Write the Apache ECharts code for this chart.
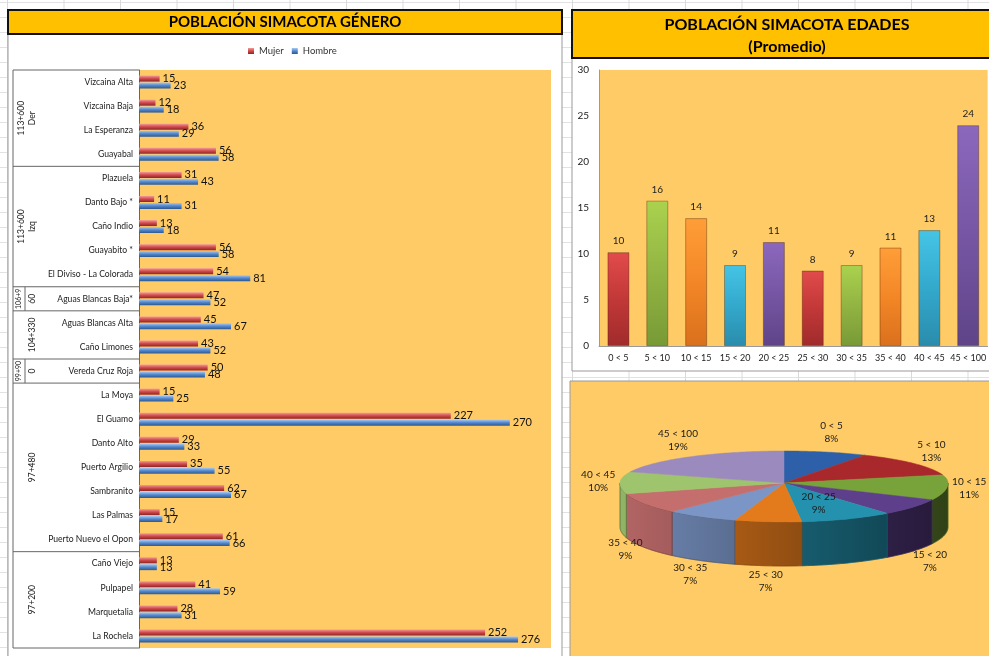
<!DOCTYPE html>
<html>
<head>
<meta charset="utf-8">
<script src="https://cdn.jsdelivr.net/npm/echarts@6/dist/echarts.min.js"></script>
<style>
  html, body { margin: 0; padding: 0; background: #fff; }
  #main {
    width: 989px; height: 656px;
    background-color: #fff;
    background-image: linear-gradient(to right, #dadada 1px, transparent 1px),
                      linear-gradient(to bottom, #e2e2e2 1px, transparent 1px);
    background-size: 56.5px 15px;
    background-position: 7px 2px;
  }
</style>
</head>
<body>
<div id="main"></div>
<script>
// poblacion por genero (veredas)
const localidades = ['Vizcaina Alta', 'Vizcaina Baja', 'La Esperanza', 'Guayabal', 'Plazuela', 'Danto Bajo *',
  'Caño Indio', 'Guayabito *', 'El Diviso - La Colorada', 'Aguas Blancas Baja*', 'Aguas Blancas Alta',
  'Caño Limones', 'Vereda Cruz Roja', 'La Moya', 'El Guamo', 'Danto Alto', 'Puerto Argilio', 'Sambranito',
  'Las Palmas', 'Puerto Nuevo el Opon', 'Caño Viejo', 'Pulpapel', 'Marquetalia', 'La Rochela'];
const mujer  = [15, 12, 36, 56, 31, 11, 13, 56, 54, 47, 45, 43, 50, 15, 227, 29, 35, 62, 15, 61, 13, 41, 28, 252];
const hombre = [23, 18, 29, 58, 43, 31, 18, 58, 81, 52, 67, 52, 48, 25, 270, 33, 55, 67, 17, 66, 13, 59, 31, 276];

// sectores de la via (etiquetas agrupadas del eje)
const sectorKm    = ['113+600', '113+600', '106+9', '', '99+90', '', ''];
const sectorLado  = ['Der', 'Izq', '60', '104+330', '0', '97+480', '97+200'];
const sectorDesde = [0, 4, 9, 10, 12, 13, 20];
const sectorHasta = [3, 8, 9, 11, 12, 19, 23];

// edades (promedio)
const edades = ['0 < 5', '5 < 10', '10 < 15', '15 < 20', '20 < 25', '25 < 30', '30 < 35', '35 < 40', '40 < 45', '45 < 100'];
const promedioEdad = [10.2, 15.8, 13.9, 8.8, 11.3, 8.2, 8.8, 10.7, 12.6, 24.0];

const FONT = 'Lato, "Open Sans", sans-serif';
const fondoNaranja = '#FFCB66';

function shade(hex, f) {
  const n = parseInt(hex.slice(1), 16);
  const r = Math.min(255, Math.round(((n >> 16) & 255) * f));
  const g = Math.min(255, Math.round(((n >> 8) & 255) * f));
  const b = Math.min(255, Math.round((n & 255) * f));
  return 'rgb(' + r + ',' + g + ',' + b + ')';
}
function vgrad(stops) {
  return new echarts.graphic.LinearGradient(0, 0, 0, 1, stops.map((c, k) => ({ offset: k / (stops.length - 1), color: c })));
}

// colores barras de edades
const coloresBarra = [
  ['#E24B4B', '#C23838', '#A02B2B'],
  ['#AAD24E', '#92B443', '#789A36'],
  ['#FF9E38', '#F38727', '#D9701C'],
  ['#45C4E6', '#33A9CC', '#2A8CAC'],
  ['#8C68BC', '#7656A4', '#5F4488']
];
// colores torta 3D
const coloresTorta = ['#2E60AA', '#A8282C', '#77A33A', '#5D3F8C', '#2492AE', '#E37A1C', '#7B95C6', '#C46E6E', '#9EC46E', '#9B8ABD'];
const etiquetasDentro = ['20 < 25'];

const total = promedioEdad.reduce((a, b) => a + b, 0);
const acumulado = [0];
promedioEdad.forEach((v, i) => acumulado.push(acumulado[i] + v));

// geometria de la torta
const pie = { cx: 784, cy: 483, rx: 164, ryB: 32, ryF: 39, depth: 44 };
function pt(phi, dy) {
  const c = Math.cos(phi);
  return [pie.cx + pie.rx * Math.sin(phi), pie.cy - (c > 0 ? pie.ryB : pie.ryF) * c + (dy || 0)];
}
function arc(a0, a1, dy) {
  const pts = [];
  const n = Math.max(2, Math.ceil((a1 - a0) / (Math.PI / 180)));
  for (let k = 0; k <= n; k++) pts.push(pt(a0 + (a1 - a0) * k / n, dy));
  return pts;
}

function renderSlice(params, api) {
  const i = params.dataIndex;
  const a0 = acumulado[i] / total * Math.PI * 2;
  const a1 = acumulado[i + 1] / total * Math.PI * 2;
  const col = coloresTorta[i];
  const children = [];
  // pared lateral visible
  const s0 = Math.max(a0, Math.PI / 2), s1 = Math.min(a1, Math.PI * 1.5);
  if (s1 > s0) {
    const pts = arc(s0, s1, 0).concat(arc(s0, s1, pie.depth).reverse());
    children.push({
      type: 'polygon', shape: { points: pts },
      style: {
        fill: new echarts.graphic.LinearGradient(pie.cx - pie.rx, 0, pie.cx + pie.rx, 0,
          [{ offset: 0, color: shade(col, 0.92) }, { offset: 1, color: shade(col, 0.4) }], true),
        stroke: shade(col, 0.6), lineWidth: 0.5
      }
    });
  }
  // cara superior
  const top = [[pie.cx, pie.cy]].concat(arc(a0, a1, 0));
  children.push({
    type: 'polygon', shape: { points: top },
    style: { fill: col, stroke: col, lineWidth: 0.5 }
  });
  // etiqueta
  const mid = (a0 + a1) / 2;
  const s = Math.sin(mid), c = Math.cos(mid);
  let lx, ly;
  if (etiquetasDentro.indexOf(edades[i]) >= 0) {
    lx = pie.cx + pie.rx * 0.55 * s;
    ly = pie.cy - (c > 0 ? pie.ryB : pie.ryF) * 0.55 * c;
  } else {
    lx = pie.cx + (pie.rx + 22) * s;
    ly = c >= 0 ? pie.cy - (pie.ryB + 20) * c
                : pie.cy + (pie.ryF + 16) * (-c) + pie.depth * Math.min(1, Math.max(0, -c - 0.1) * 2);
  }
  children.push({
    type: 'text', z2: 100, x: lx, y: ly,
    style: {
      text: edades[i] + '\n' + Math.round(api.value(0) / total * 100) + '%',
      fill: '#1a1a1a', fontSize: 10, fontFamily: FONT, align: 'center', verticalAlign: 'middle', lineHeight: 13
    }
  });
  return { type: 'group', children: children };
}

const chart = echarts.init(document.getElementById('main'));

const option = {
  backgroundColor: 'transparent',
  animation: false,
  textStyle: { fontFamily: FONT },
  legend: {
    data: ['Mujer', 'Hombre'], left: 243, top: 41, icon: 'rect',
    itemWidth: 6, itemHeight: 6, itemGap: 8,
    textStyle: { fontSize: 9.5, color: '#333' }
  },
  grid: [
    { left: 139, top: 70, width: 412, height: 578, show: true, backgroundColor: fondoNaranja, borderWidth: 0 },
    { left: 599, top: 70, width: 392, height: 276, show: true, backgroundColor: fondoNaranja, borderWidth: 0 }
  ],
  xAxis: [
    { gridIndex: 0, type: 'value', min: 0, max: 300, show: false },
    {
      gridIndex: 1, type: 'category', data: edades,
      axisLine: { lineStyle: { color: '#9a9a9a' } }, axisTick: { show: false },
      axisLabel: { fontSize: 9, color: '#222', margin: 8, interval: 0 }
    }
  ],
  yAxis: [
    {
      gridIndex: 0, type: 'category', data: localidades, inverse: true,
      axisLine: { show: true, lineStyle: { color: '#666' } }, axisTick: { show: false },
      axisLabel: { fontSize: 8.6, color: '#222', margin: 6, interval: 0 }
    },
    {
      gridIndex: 1, type: 'value', min: 0, max: 30, interval: 5,
      axisLine: { show: true, lineStyle: { color: '#9a9a9a' } }, axisTick: { show: false },
      splitLine: { show: false },
      axisLabel: { fontSize: 10, color: '#222', margin: 10 }
    }
  ],
  series: [
    {
      name: 'Mujer', type: 'bar', xAxisIndex: 0, yAxisIndex: 0, data: mujer,
      barWidth: 6, barGap: '15%',
      itemStyle: { color: vgrad(['#F39A9A', '#D04A4A', '#8E2424']) },
      label: { show: true, position: 'right', distance: 3, fontSize: 11, color: '#111' }
    },
    {
      name: 'Hombre', type: 'bar', xAxisIndex: 0, yAxisIndex: 0, data: hombre,
      barWidth: 6, barGap: '15%',
      itemStyle: { color: vgrad(['#A9CAF2', '#5387CC', '#2C5890']) },
      label: { show: true, position: 'right', distance: 3, fontSize: 11, color: '#111' }
    },
    {
      name: 'Edades', type: 'bar', xAxisIndex: 1, yAxisIndex: 1, barWidth: 22,
      data: promedioEdad.map((v, i) => ({
        value: v,
        itemStyle: { color: vgrad(coloresBarra[i % 5]), borderColor: 'rgba(60,30,0,0.35)', borderWidth: 1 }
      })),
      label: { show: true, position: 'top', distance: 6, fontSize: 10, color: '#222', formatter: p => Math.round(p.value) }
    },
    {
      name: 'Torta', type: 'custom', coordinateSystem: 'none', silent: true,
      data: promedioEdad, renderItem: renderSlice
    }
  ]
};
chart.setOption(option);

// marcos, titulos y etiquetas agrupadas del eje
function marcos() {
  const yc = i => chart.convertToPixel({ yAxisIndex: 0 }, i);
  const band = yc(1) - yc(0);
  const els = [
    { type: 'rect', z: -10, shape: { x: 8, y: 34, width: 554, height: 640 }, style: { fill: '#fff', stroke: '#9a9a9a', lineWidth: 1 } },
    { type: 'rect', z: -10, shape: { x: 572, y: 58, width: 430, height: 313 }, style: { fill: '#fff', stroke: '#9a9a9a', lineWidth: 1 } },
    { type: 'rect', z: -10, shape: { x: 570, y: 381, width: 430, height: 290 }, style: { fill: fondoNaranja, stroke: '#9a9a9a', lineWidth: 1 } },
    { type: 'rect', z: 10, shape: { x: 8, y: 10, width: 554, height: 24 }, style: { fill: '#FFC000', stroke: '#111', lineWidth: 2 } },
    { type: 'text', z: 11, x: 285, y: 22, style: { text: 'POBLACIÓN SIMACOTA GÉNERO', font: 'bold 15px ' + FONT, fill: '#000', align: 'center', verticalAlign: 'middle' } },
    { type: 'rect', z: 10, shape: { x: 572, y: 10, width: 430, height: 48 }, style: { fill: '#FFC000', stroke: '#111', lineWidth: 2 } },
    { type: 'text', z: 11, x: 787, y: 25, style: { text: 'POBLACIÓN SIMACOTA EDADES', font: 'bold 16px ' + FONT, fill: '#000', align: 'center', verticalAlign: 'middle' } },
    { type: 'text', z: 11, x: 787, y: 47, style: { text: '(Promedio)', font: 'bold 16px ' + FONT, fill: '#000', align: 'center', verticalAlign: 'middle' } }
  ];
  const y0 = yc(0) - band / 2;
  const yN = yc(localidades.length - 1) + band / 2;
  els.push({ type: 'line', shape: { x1: 13, y1: y0, x2: 13, y2: yN }, style: { stroke: '#666', lineWidth: 1 } });
  els.push({ type: 'line', shape: { x1: 13, y1: y0, x2: 139, y2: y0 }, style: { stroke: '#666', lineWidth: 1 } });
  sectorLado.forEach((lado, g) => {
    const top = yc(sectorDesde[g]) - band / 2;
    const bot = yc(sectorHasta[g]) + band / 2;
    const mid = (top + bot) / 2;
    const simple = sectorDesde[g] === sectorHasta[g];
    els.push({ type: 'line', shape: { x1: 13, y1: bot, x2: 139, y2: bot }, style: { stroke: '#666', lineWidth: 1 } });
    els.push({ type: 'text', x: 32, y: mid, rotation: Math.PI / 2, style: { text: lado, fontSize: 8.5, fontFamily: FONT, fill: '#222', align: 'center', verticalAlign: 'middle' } });
    if (sectorKm[g]) {
      els.push({ type: 'text', x: simple ? 19 : 21, y: mid, rotation: Math.PI / 2, style: { text: sectorKm[g], fontSize: simple ? 7 : 8.5, fontFamily: FONT, fill: '#222', align: 'center', verticalAlign: 'middle' } });
      if (simple) {
        els.push({ type: 'line', shape: { x1: 25, y1: top, x2: 25, y2: bot }, style: { stroke: '#666', lineWidth: 1 } });
      }
    }
  });
  chart.setOption({ graphic: els });
}
marcos();
</script>
</body>
</html>
